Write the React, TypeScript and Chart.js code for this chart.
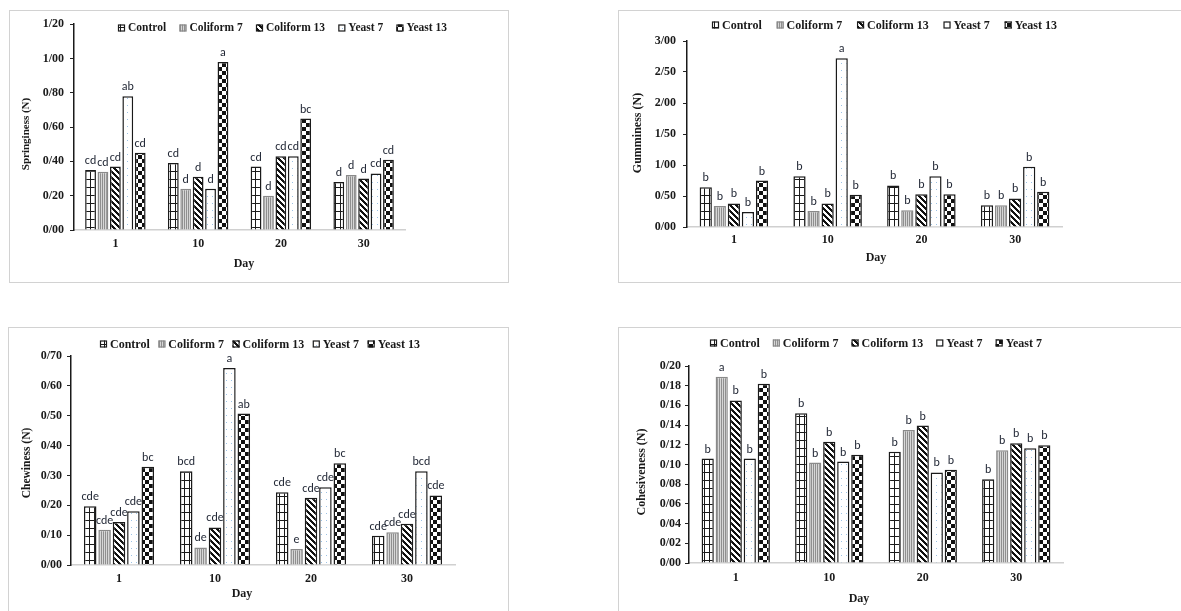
import React, { useEffect, useRef } from 'react';
import { Chart, registerables } from 'chart.js';

Chart.register(...registerables);

// ---------- data ----------
const days = ['1', '10', '20', '30'];
const treatments = ['Control', 'Coliform 7', 'Coliform 13', 'Yeast 7', 'Yeast 13'];
const cohesivenessLegend = ['Control', 'Coliform 7', 'Coliform 13', 'Yeast 7', 'Yeast 7'];

// rows = treatments, columns = days
const springinessValues = [
  [0.35, 0.39, 0.37, 0.28],
  [0.34, 0.24, 0.2, 0.32],
  [0.37, 0.31, 0.43, 0.3],
  [0.78, 0.24, 0.43, 0.33],
  [0.45, 0.98, 0.65, 0.41],
];
const springinessLetters = [
  ['cd', 'cd', 'cd', 'd'],
  ['cd', 'd', 'd', 'd'],
  ['cd', 'd', 'cd', 'd'],
  ['ab', 'd', 'cd', 'cd'],
  ['cd', 'a', 'bc', 'cd'],
];
const springinessTicks = { max: 1.2, step: 0.2 };

const gumminessValues = [
  [0.64, 0.82, 0.67, 0.35],
  [0.34, 0.26, 0.27, 0.35],
  [0.38, 0.38, 0.53, 0.46],
  [0.24, 2.72, 0.82, 0.97],
  [0.75, 0.52, 0.53, 0.57],
];
const gumminessLetters = [
  ['b', 'b', 'b', 'b'],
  ['b', 'b', 'b', 'b'],
  ['b', 'b', 'b', 'b'],
  ['b', 'a', 'b', 'b'],
  ['b', 'b', 'b', 'b'],
];
const gumminessTicks = { max: 3, step: 0.5 };

const chewinessValues = [
  [0.197, 0.314, 0.244, 0.098],
  [0.118, 0.059, 0.054, 0.11],
  [0.144, 0.126, 0.225, 0.138],
  [0.18, 0.66, 0.26, 0.314],
  [0.329, 0.507, 0.341, 0.233],
];
const chewinessLetters = [
  ['cde', 'bcd', 'cde', 'cde'],
  ['cde', 'de', 'e', 'cde'],
  ['cde', 'cde', 'cde', 'cde'],
  ['cde', 'a', 'cde', 'bcd'],
  ['bc', 'ab', 'bc', 'cde'],
];
const chewinessTicks = { max: 0.7, step: 0.1 };

const cohesivenessValues = [
  [0.106, 0.152, 0.113, 0.085],
  [0.189, 0.102, 0.135, 0.1145],
  [0.165, 0.123, 0.1395, 0.1216],
  [0.106, 0.103, 0.092, 0.1166],
  [0.182, 0.11, 0.0946, 0.1196],
];
const cohesivenessLetters = [
  ['b', 'b', 'b', 'b'],
  ['a', 'b', 'b', 'b'],
  ['b', 'b', 'b', 'b'],
  ['b', 'b', 'b', 'b'],
  ['b', 'b', 'b', 'b'],
];
const cohesivenessTicks = { max: 0.2, step: 0.02 };

// ---------- styling / layout ----------
const SERIF = "'Liberation Serif', 'Times New Roman', serif";
const SANS = "Carlito, Lato, 'Liberation Sans', sans-serif";

type PanelCfg = {
  box: { left: number; top: number; w: number; h: number };
  area: { left: number; right: number; top: number; bottom: number };
  values: number[][];
  letters: string[][];
  legend: string[];
  ticks: { max: number; step: number };
  yTitle: string;
  yTitlePos: [number, number];
  yTitleSize: number;
  dayPos: [number, number];
  legendY: number;
  legendSpan: [number, number];
  legendSize: number;
  xPad: number;
  yPad: number;
};

const panels: PanelCfg[] = [
  {
    box: { left: 9, top: 10, w: 500, h: 273 },
    area: { left: 64, right: 395, top: 13, bottom: 219 },
    values: springinessValues,
    letters: springinessLetters,
    legend: treatments,
    ticks: springinessTicks,
    yTitle: 'Springiness (N)',
    yTitlePos: [16, 123],
    yTitleSize: 11,
    dayPos: [234, 253],
    legendY: 17,
    legendSpan: [108, 437],
    legendSize: 11.5,
    xPad: 7,
    yPad: 6,
  },
  {
    box: { left: 618, top: 10, w: 570, h: 273 },
    area: { left: 68, right: 443, top: 30, bottom: 216 },
    values: gumminessValues,
    letters: gumminessLetters,
    legend: treatments,
    ticks: gumminessTicks,
    yTitle: 'Gumminess (N)',
    yTitlePos: [19, 122],
    yTitleSize: 12,
    dayPos: [257, 247],
    legendY: 14,
    legendSpan: [93, 438],
    legendSize: 12,
    xPad: 6,
    yPad: 7,
  },
  {
    box: { left: 8, top: 327, w: 501, h: 300 },
    area: { left: 62, right: 446, top: 28, bottom: 237 },
    values: chewinessValues,
    letters: chewinessLetters,
    legend: treatments,
    ticks: chewinessTicks,
    yTitle: 'Chewiness (N)',
    yTitlePos: [18, 135],
    yTitleSize: 11.5,
    dayPos: [233, 266],
    legendY: 16,
    legendSpan: [91, 411],
    legendSize: 12,
    xPad: 7,
    yPad: 5,
  },
  {
    box: { left: 618, top: 327, w: 570, h: 300 },
    area: { left: 70, right: 444, top: 38, bottom: 235 },
    values: cohesivenessValues,
    letters: cohesivenessLetters,
    legend: cohesivenessLegend,
    ticks: cohesivenessTicks,
    yTitle: 'Cohesiveness (N)',
    yTitlePos: [23, 144],
    yTitleSize: 12,
    dayPos: [240, 271],
    legendY: 15,
    legendSpan: [91, 423],
    legendSize: 12,
    xPad: 8,
    yPad: 4,
  },
];

function makeTile(w: number, h: number, draw: (c: CanvasRenderingContext2D) => void) {
  const t = document.createElement('canvas');
  t.width = w;
  t.height = h;
  const c = t.getContext('2d')!;
  c.fillStyle = '#ffffff';
  c.fillRect(0, 0, w, h);
  draw(c);
  return t;
}

function makePatterns(ctx: CanvasRenderingContext2D): CanvasPattern[] {
  const grid = makeTile(5, 8, (c) => {
    c.fillStyle = '#1a1a1a';
    c.fillRect(0, 0, 5, 1);
    c.fillRect(0, 0, 1, 8);
  });
  const vstripe = makeTile(2, 1, (c) => {
    c.fillStyle = '#8f8f8f';
    c.fillRect(0, 0, 1, 1);
    c.fillStyle = '#d6d6d6';
    c.fillRect(1, 0, 1, 1);
  });
  const diag = makeTile(6, 6, (c) => {
    c.fillStyle = '#111111';
    for (let y = 0; y < 6; y++) {
      for (let k = 0; k < 3; k++) c.fillRect((y + k) % 6, y, 1, 1);
    }
  });
  const dots = makeTile(5, 7, (c) => {
    c.fillStyle = '#9cc2e5';
    c.fillRect(2, 3, 1, 1);
  });
  const checker = makeTile(8, 8, (c) => {
    c.fillStyle = '#111111';
    c.fillRect(0, 0, 4, 4);
    c.fillRect(4, 4, 4, 4);
  });
  return [grid, vstripe, diag, dots, checker].map((t) => ctx.createPattern(t, 'repeat') as CanvasPattern);
}

const fmt = (v: number) => Number(v).toFixed(2).replace('.', '/');

function Panel({ cfg }: { cfg: PanelCfg }) {
  const ref = useRef<HTMLCanvasElement>(null);
  const W = cfg.box.w - 2;
  const H = cfg.box.h - 2;

  useEffect(() => {
    const canvas = ref.current!;
    const ctx0 = canvas.getContext('2d')!;
    const pats = makePatterns(ctx0);
    const borderColors = ['#1a1a1a', '#8a8a8a', '#1a1a1a', '#1a1a1a', '#1a1a1a'];

    const decor = {
      id: 'decor',
      afterDatasetsDraw(chart: any) {
        const ctx: CanvasRenderingContext2D = chart.ctx;
        ctx.save();
        ctx.font = `12px ${SANS}`;
        ctx.fillStyle = '#1f2533';
        ctx.textAlign = 'center';
        ctx.textBaseline = 'alphabetic';
        cfg.letters.forEach((row, i) => {
          const meta = chart.getDatasetMeta(i);
          row.forEach((txt, j) => {
            const el = meta.data[j];
            if (el) ctx.fillText(txt, el.x, el.y - 6);
          });
        });
        ctx.restore();
      },
      afterDraw(chart: any) {
        const ctx: CanvasRenderingContext2D = chart.ctx;
        ctx.save();
        // legend
        ctx.font = `bold ${cfg.legendSize}px ${SERIF}`;
        ctx.textBaseline = 'middle';
        ctx.textAlign = 'left';
        const box = 7;
        const gapBox = 3;
        const widths = cfg.legend.map((t) => ctx.measureText(t).width);
        const used = widths.reduce((a, w) => a + w + box + gapBox, 0);
        const gap = (cfg.legendSpan[1] - cfg.legendSpan[0] - used) / (cfg.legend.length - 1);
        let x = cfg.legendSpan[0];
        cfg.legend.forEach((t, i) => {
          const y = cfg.legendY;
          ctx.fillStyle = pats[i];
          ctx.fillRect(x, y - box / 2, box, box);
          ctx.strokeStyle = borderColors[i];
          ctx.lineWidth = 1.2;
          ctx.strokeRect(x + 0.5, y - box / 2 + 0.5, box - 1, box - 1);
          ctx.fillStyle = '#1a1a1a';
          ctx.fillText(t, x + box + gapBox, y + 0.5);
          x += box + gapBox + widths[i] + gap;
        });
        // y title
        ctx.save();
        ctx.translate(cfg.yTitlePos[0], cfg.yTitlePos[1]);
        ctx.rotate(-Math.PI / 2);
        ctx.font = `bold ${cfg.yTitleSize}px ${SERIF}`;
        ctx.textAlign = 'center';
        ctx.textBaseline = 'middle';
        ctx.fillStyle = '#1a1a1a';
        ctx.fillText(cfg.yTitle, 0, 0);
        ctx.restore();
        // x title
        ctx.font = `bold 12px ${SERIF}`;
        ctx.textAlign = 'center';
        ctx.textBaseline = 'middle';
        ctx.fillStyle = '#1a1a1a';
        ctx.fillText('Day', cfg.dayPos[0], cfg.dayPos[1]);
        ctx.restore();
      },
    };

    const chart = new Chart(canvas, {
      type: 'bar',
      data: {
        labels: days,
        datasets: cfg.values.map((vals, i) => ({
          label: cfg.legend[i],
          data: vals,
          backgroundColor: pats[i],
          borderColor: borderColors[i],
          borderWidth: 1.5,
          categoryPercentage: 0.75,
          barPercentage: 0.87,
        })),
      },
      options: {
        responsive: false,
        animation: false,
        devicePixelRatio: 1,
        events: [],
        layout: {
          padding: { left: 0, top: cfg.area.top, right: W - cfg.area.right, bottom: 0 },
        },
        plugins: {
          legend: { display: false },
          tooltip: { enabled: false },
          title: { display: false },
        },
        scales: {
          x: {
            grid: { display: false, drawTicks: false },
            border: { display: true, color: '#d0d0d0', width: 1.5 },
            ticks: {
              font: { family: SERIF, weight: 'bold', size: 12 },
              color: '#1a1a1a',
              padding: cfg.xPad,
            },
            afterFit: (s: any) => {
              s.height = H - cfg.area.bottom;
            },
          },
          y: {
            min: 0,
            max: cfg.ticks.max,
            ticks: {
              stepSize: cfg.ticks.step,
              autoSkip: false,
              callback: (v: any) => fmt(v),
              font: { family: SERIF, weight: 'bold', size: 12 },
              color: '#1a1a1a',
              padding: cfg.yPad,
            },
            grid: {
              display: true,
              drawOnChartArea: false,
              drawTicks: true,
              tickLength: 4,
              color: '#222222',
              lineWidth: 1,
            },
            border: { display: true, color: '#1a1a1a', width: 1.5 },
            afterFit: (s: any) => {
              s.width = cfg.area.left;
            },
          },
        },
      } as any,
      plugins: [decor],
    });
    return () => chart.destroy();
  }, []);

  return (
    <div
      style={{
        position: 'absolute',
        left: cfg.box.left,
        top: cfg.box.top,
        width: W,
        height: H,
        border: '1px solid #d2d2d2',
        background: '#ffffff',
      }}
    >
      <canvas ref={ref} width={W} height={H} style={{ display: 'block' }} />
    </div>
  );
}

export default function App() {
  return (
    <div
      style={{
        position: 'fixed',
        left: 0,
        top: 0,
        width: 1181,
        height: 611,
        overflow: 'hidden',
        background: '#ffffff',
      }}
    >
      {panels.map((p, i) => (
        <Panel key={i} cfg={p} />
      ))}
    </div>
  );
}
